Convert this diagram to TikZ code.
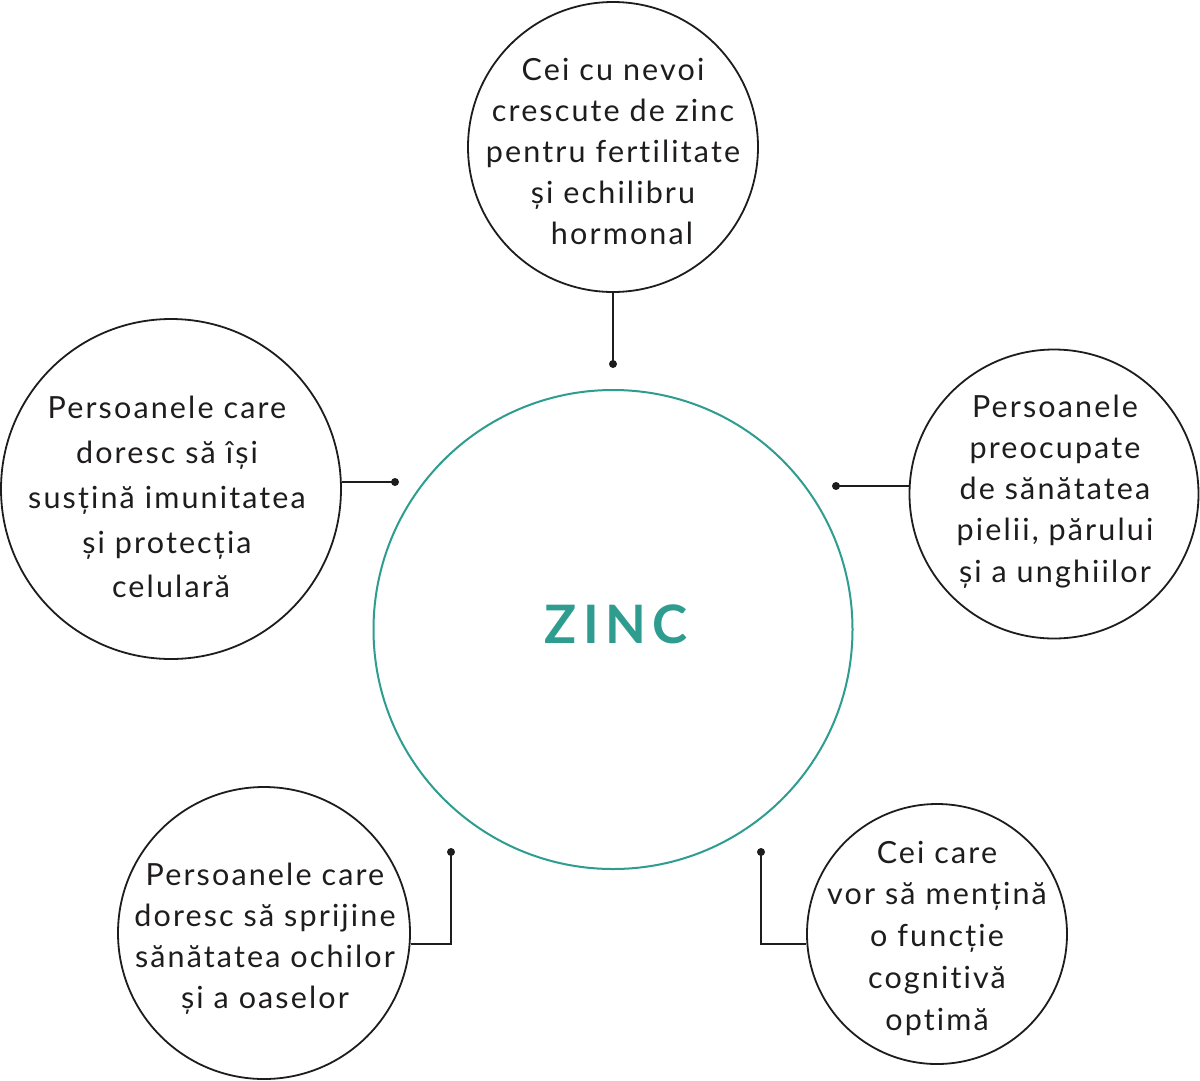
\documentclass[tikz,border=0pt]{standalone}
\usepackage{fontspec}
\setmainfont{Lato}[LetterSpace=7,Ligatures=NoCommon]
\newfontfamily\zincfont{Lato Bold}[LetterSpace=12,Ligatures=NoCommon]
\definecolor{teal1}{HTML}{2E9C8F}
\definecolor{ink}{HTML}{1E1C1D}
\begin{document}
\begin{tikzpicture}[x=1pt,y=-1pt,
  bubble/.style={circle,draw=ink,line width=1.8pt,minimum size=#1,inner sep=0pt},
  txt/.style={align=center,text=ink,font=\fontsize{30.5}{41}\selectfont,inner sep=0pt},
  txtwide/.style={txt,font=\fontsize{30.5}{44.75}\selectfont},
  link/.style={draw=ink,line width=1.4pt},
  dotmark/.style={fill=ink}]
\useasboundingbox (0,0) rectangle (1200,1080);
\fill[white] (0,0) rectangle (1200,1080);

% central circle
\node[circle,draw=teal1,line width=2pt,minimum size=479pt,inner sep=0pt] (zc) at (613,629.5) {};
\node[text=teal1,font=\zincfont\fontsize{53}{60}\selectfont,inner sep=0pt] (zt) at (616,624) {ZINC};

% outer circles
\node[bubble=290pt] (c1) at (613,147) {};
\node[bubble=340pt] (c2) at (171,489) {};
\node[bubble=289pt] (c3) at (1054,494) {};
\node[bubble=292pt] (c4) at (264,933) {};
\node[bubble=260pt] (c5) at (937,934) {};

% texts
\node[txt] (t1) at (613,153.8) {\strut Cei cu nevoi\\ \strut crescute de zinc\\ \strut pentru fertilitate\\ \strut și echilibru\\ \strut\hspace*{18pt}hormonal};
\node[txtwide] (t2) at (167,499.5) {\strut Persoanele care\\ \strut doresc să își\\ \strut susțină imunitatea\\ \strut și protecția\\ \strut\hspace*{8pt}celulară};
\node[txt,font=\fontsize{30.5}{41.25}\selectfont] (t3) at (1055,491.3) {\strut Persoanele\\ \strut preocupate\\ \strut de sănătatea\\ \strut pielii, părului\\ \strut și a unghiilor};
\node[txt,font=\fontsize{30.5}{40.7}\selectfont] (t4) at (265,938.8) {\strut Persoanele care\\ \strut doresc să sprijine\\ \strut sănătatea ochilor\\ \strut și a oaselor};
\node[txt,font=\fontsize{30.5}{41.75}\selectfont] (t5) at (937,938.2) {\strut Cei care\\ \strut vor să mențină\\ \strut o funcție\\ \strut cognitivă\\ \strut optimă};

% connector end points
\coordinate (d1) at (613,364);
\coordinate (d2) at (395,482);
\coordinate (d3) at (836,486);
\coordinate (d4) at (451,852);
\coordinate (e4) at (451,944);
\coordinate (d5) at (761,852);
\coordinate (e5) at (761,944);

% connectors
\draw[link] (c1.south) -- (d1);
\draw[link] (d2 -| c2.east) -- (d2);
\draw[link] (d3) -- (d3 -| c3.west);
\draw[link] (d4) -- (e4) -- (e4 -| c4.east);
\draw[link] (d5) -- (e5) -- (e5 -| c5.west);

\foreach \d in {d1,d2,d3,d4,d5} \fill[dotmark] (\d) circle (4);
\end{tikzpicture}
\end{document}
